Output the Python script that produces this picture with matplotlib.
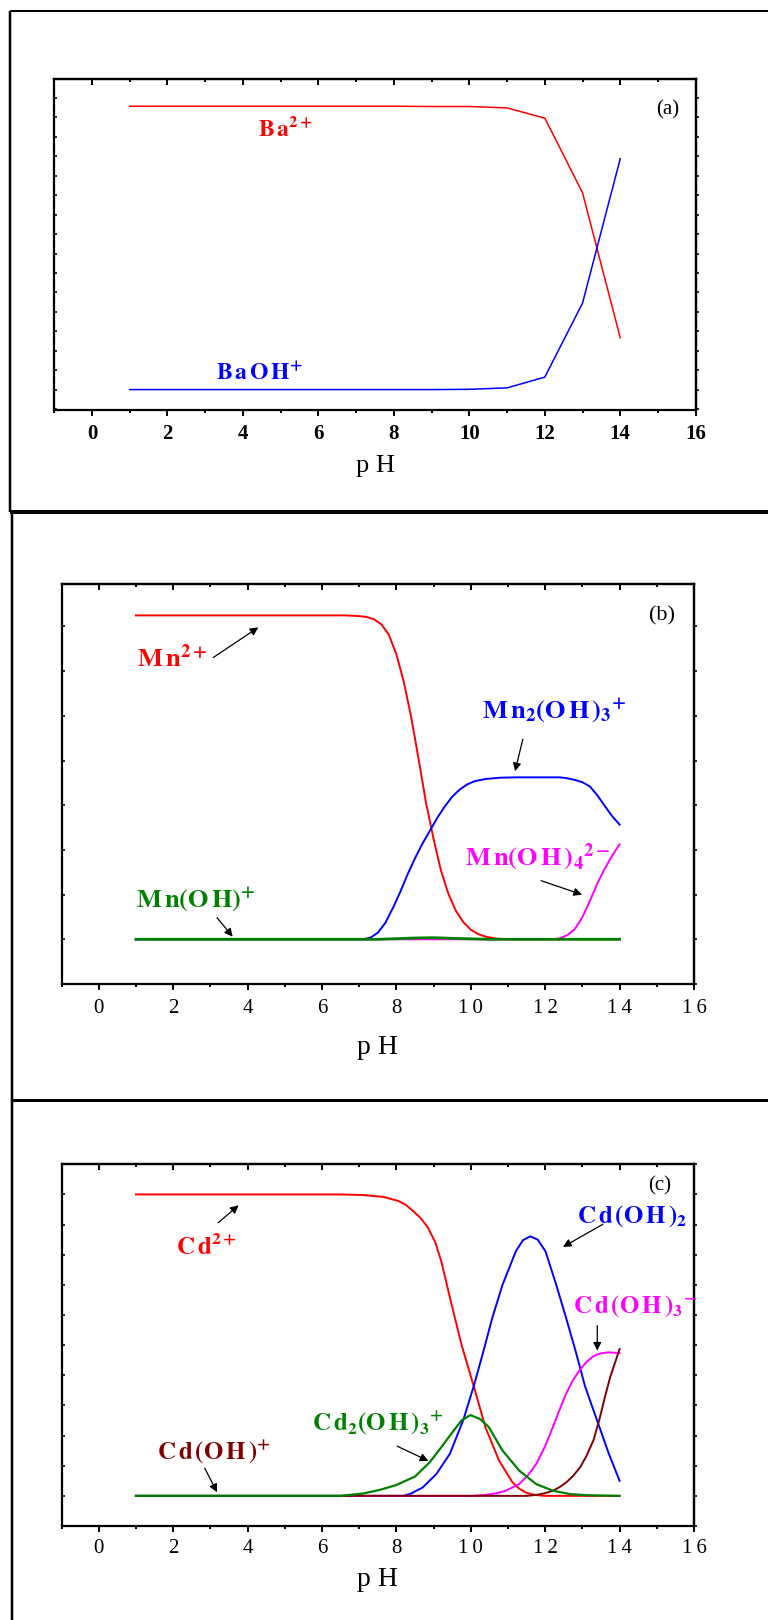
import matplotlib
matplotlib.use("Agg")
import matplotlib.pyplot as plt
from matplotlib.lines import Line2D
from matplotlib.ticker import FixedLocator, MultipleLocator, NullFormatter

plt.rcParams["font.family"] = ["Liberation Serif", "DejaVu Serif"]
plt.rcParams["mathtext.fontset"] = "stix"

# ---- tick labels ----
PH_TICKS = [0, 2, 4, 6, 8, 10, 12, 14, 16]
PH_LABELS_A = ["0", "2", "4", "6", "8", "10", "12", "14", "16"]
PH_LABELS_BC = ["0", "2", "4", "6", "8", "1\u20090", "1\u20092", "1\u20094", "1\u20096"]

# ---- (a) Ba speciation ----
PH_A = [1, 2, 3, 4, 5, 6, 7, 8, 9, 10, 11, 12, 13, 14]
BA2 = [1.0, 1.0, 1.0, 1.0, 1.0, 1.0, 1.0, 1.0, 0.999, 0.999, 0.994, 0.958, 0.695, 0.183]
BAOH = [0.0, 0.0, 0.0, 0.0, 0.0, 0.0, 0.0, 0.0, 0.0, 0.001, 0.006, 0.044, 0.305, 0.815]

# ---- (b) Mn speciation ----
MN2_PH = [1.0, 6.6, 7.0, 7.2, 7.4, 7.6, 7.8, 8.0, 8.2, 8.4, 8.6, 8.8, 9.0, 9.2, 9.4,
          9.6, 9.8, 10.0, 10.2, 10.4, 10.7, 11.0, 14.0]
MN2 = [1.0, 1.0, 0.998, 0.995, 0.988, 0.972, 0.94, 0.88, 0.795, 0.685, 0.555, 0.42,
       0.31, 0.212, 0.14, 0.088, 0.053, 0.03, 0.016, 0.008, 0.002, 0.0, 0.0]
MN2OH3_PH = [1.0, 7.1, 7.3, 7.5, 7.7, 7.9, 8.1, 8.3, 8.5, 8.7, 8.9, 9.1, 9.3, 9.5,
             9.7, 9.9, 10.1, 10.4, 10.8, 11.2, 12.4, 12.6, 12.8, 13.0, 13.2, 13.4,
             13.6, 13.8, 14.0]
MN2OH3 = [0.0, 0.0, 0.005, 0.02, 0.05, 0.095, 0.145, 0.2, 0.25, 0.295, 0.335, 0.375,
          0.41, 0.44, 0.462, 0.478, 0.488, 0.495, 0.499, 0.5, 0.5, 0.497, 0.492,
          0.485, 0.472, 0.445, 0.412, 0.38, 0.354]
MNOH4_PH = [1.0, 12.2, 12.4, 12.6, 12.8, 13.0, 13.2, 13.4, 13.6, 13.8, 14.0]
MNOH4 = [0.0, 0.0, 0.003, 0.013, 0.032, 0.068, 0.118, 0.172, 0.218, 0.258, 0.293]
MNOH_PH = [1.0, 7.5, 8.5, 9.0, 9.5, 10.5, 14.0]
MNOH = [0.0, 0.0, 0.004, 0.005, 0.003, 0.0, 0.0]

# ---- (c) Cd speciation ----
CD2_PH = [1.0, 6.5, 7.1, 7.64, 8.04, 8.25, 8.43, 8.65, 8.85, 9.05, 9.21, 9.49, 9.76,
          10.08, 10.39, 10.76, 11.12, 11.3, 11.48, 11.65, 11.8, 12.0, 14.0]
CD2 = [1.0, 1.0, 0.998, 0.992, 0.979, 0.966, 0.947, 0.922, 0.89, 0.84, 0.777, 0.632,
       0.498, 0.364, 0.229, 0.117, 0.045, 0.024, 0.011, 0.005, 0.002, 0.0, 0.0]
CDOH2_PH = [1.0, 8.2, 8.4, 8.71, 9.08, 9.44, 9.8, 10.08, 10.33, 10.57, 10.85, 11.21,
            11.4, 11.6, 11.8, 12.01, 12.3, 12.57, 12.83, 13.07, 13.39, 13.71, 14.0]
CDOH2 = [0.0, 0.0, 0.008, 0.028, 0.073, 0.14, 0.252, 0.364, 0.475, 0.587, 0.699, 0.811,
         0.848, 0.861, 0.85, 0.811, 0.699, 0.587, 0.475, 0.364, 0.252, 0.14, 0.05]
CDOH3_PH = [1.0, 10.0, 10.39, 10.7, 10.94, 11.15, 11.3, 11.55, 11.76, 12.0, 12.21,
            12.4, 12.57, 12.75, 12.94, 13.1, 13.3, 13.5, 13.7, 14.0]
CDOH3 = [0.0, 0.0, 0.003, 0.009, 0.017, 0.03, 0.039, 0.07, 0.106, 0.165, 0.229, 0.29,
         0.341, 0.385, 0.419, 0.443, 0.464, 0.473, 0.476, 0.474]
CDOH_PH = [1.0, 11.5, 11.76, 12.0, 12.21, 12.4, 12.57, 12.75, 12.94, 13.1, 13.3,
           13.45, 13.6, 13.75, 13.9, 14.0]
CDOH = [0.0, 0.0, 0.003, 0.009, 0.017, 0.03, 0.045, 0.066, 0.095, 0.13, 0.185, 0.25,
        0.325, 0.395, 0.45, 0.487]
CD2OH3_PH = [1.0, 6.5, 7.12, 7.56, 8.0, 8.5, 8.9, 9.2, 9.5, 9.75, 9.99, 10.25, 10.48,
             10.85, 11.3, 11.76, 12.21, 12.66, 13.12, 14.0]
CD2OH3 = [0.0, 0.0, 0.008, 0.02, 0.036, 0.064, 0.112, 0.16, 0.21, 0.25, 0.268, 0.255,
          0.229, 0.151, 0.084, 0.039, 0.017, 0.006, 0.002, 0.0]

RED, BLUE, MAGENTA, GREEN, BROWN = "#ff0000", "#0000ff", "#ff00ff", "#008000", "#800000"

W, H = 768, 1620
fig = plt.figure(figsize=(W / 100, H / 100), dpi=100)


def add_axes_px(left, top, right, bottom):
    return fig.add_axes([left / W, 1 - bottom / H, (right - left) / W, (bottom - top) / H])


def frame_line(x0, y0, x1, y1, lw_px):
    fig.add_artist(Line2D([x0 / W, x1 / W], [1 - y0 / H, 1 - y1 / H],
                          transform=fig.transFigure, color="k", lw=lw_px * 0.72,
                          solid_capstyle="butt"))


def style_axes(ax, ylim, ystep, labels, bold, pad, label_y, label_size):
    ax.set_xlim(-1, 16)
    ax.set_ylim(*ylim)
    for sp in ax.spines.values():
        sp.set_linewidth(1.6)
    ax.xaxis.set_major_locator(FixedLocator(PH_TICKS))
    ax.xaxis.set_minor_locator(MultipleLocator(1))
    ax.set_xticklabels(labels, fontsize=15, fontweight="bold" if bold else "normal")
    ax.tick_params(axis="x", which="both", bottom=True, top=False, direction="out",
                   width=1.4, pad=pad)
    ax.tick_params(axis="x", which="major", length=4.3)
    ax.tick_params(axis="x", which="minor", length=2.2)
    ax.yaxis.set_major_locator(MultipleLocator(ystep))
    ax.tick_params(axis="y", left=True, right=False, direction="in", length=2,
                   width=1.2, labelleft=False)

    top = ax.secondary_xaxis("top")
    top.xaxis.set_major_locator(FixedLocator(PH_TICKS))
    top.xaxis.set_minor_locator(MultipleLocator(1))
    top.xaxis.set_major_formatter(NullFormatter())
    top.tick_params(which="both", direction="in", width=1.4)
    top.tick_params(which="major", length=4.3)
    top.tick_params(which="minor", length=2.2)
    top.spines["top"].set_linewidth(1.6)

    right = ax.secondary_yaxis("right")
    right.yaxis.set_major_locator(MultipleLocator(ystep))
    right.yaxis.set_major_formatter(NullFormatter())
    right.tick_params(direction="out", length=2, width=1.2)
    right.spines["right"].set_linewidth(1.6)

    ax.set_xlabel("p H", fontsize=label_size)
    ax.xaxis.label.set_va("center")
    ax.xaxis.set_label_coords(0.5, label_y)


def arrow(ax, start, end):
    ax.annotate("", xy=end, xytext=start,
                arrowprops=dict(arrowstyle="-|>", color="k", lw=0.9,
                                mutation_scale=12, shrinkA=0, shrinkB=0))


# outer frames around the three pictures
frame_line(9.8, 11, 768, 11, 2)
frame_line(9.8, 11, 9.8, 512, 2.5)
frame_line(9.8, 511.5, 768, 511.5, 4)
frame_line(11.5, 511, 11.5, 1100, 2.5)
frame_line(11.5, 1099.5, 768, 1099.5, 3)
frame_line(11.5, 1099, 11.5, 1620, 2.5)

# ---------------- (a) ----------------
ax_a = add_axes_px(54.3, 79.3, 695.7, 410)
ax_a.plot(PH_A, BA2, color=RED, lw=1.1)
ax_a.plot(PH_A, BAOH, color=BLUE, lw=1.1)
style_axes(ax_a, (-0.072, 1.095), 0.0686, PH_LABELS_A, True, 5.8, -0.169, 19)
ax_a.text(4.40, 0.895, r"$\mathbf{B\,a^{2+}}$", color=RED, fontsize=17)
ax_a.text(3.29, 0.034, r"$\mathbf{B\,a\,O\,H^{+}}$", color=BLUE, fontsize=17)
ax_a.text(15.26, 0.987, "(a)", fontsize=15, ha="center", va="center")

# ---------------- (b) ----------------
ax_b = add_axes_px(61.5, 584.3, 694, 984)
ax_b.plot(MN2_PH, MN2, color=RED, lw=1.4)
ax_b.plot(MN2OH3_PH, MN2OH3, color=BLUE, lw=1.4)
ax_b.plot(MNOH4_PH, MNOH4, color=MAGENTA, lw=1.4)
ax_b.plot(MNOH_PH, MNOH, color=GREEN, lw=2.0)
style_axes(ax_b, (-0.138, 1.096), 0.138, PH_LABELS_BC, False, 6.8, -0.159, 20)
ax_b.text(1.03, 0.842, r"$\mathbf{M\,n^{2+}}$", color=RED, fontsize=19)
ax_b.text(10.30, 0.683, r"$\mathbf{M\,n_2(O\,H\,)_3{}^{+}}$", color=BLUE, fontsize=19)
ax_b.text(9.84, 0.226, r"$\mathbf{M\,n(O\,H\,)_4{}^{2-}}$", color=MAGENTA, fontsize=19)
ax_b.text(1.0, 0.0996, r"$\mathbf{M\,n(O\,H)^{+}}$", color=GREEN, fontsize=19)
ax_b.text(15.14, 0.998, "(b)", fontsize=16, ha="center", va="center")
arrow(ax_b, (3.08, 0.870), (4.29, 0.963))
arrow(ax_b, (11.40, 0.618), (11.19, 0.519))
arrow(ax_b, (11.89, 0.181), (12.99, 0.138))
arrow(ax_b, (3.18, 0.067), (3.60, 0.008))

# ---------------- (c) ----------------
ax_c = add_axes_px(61.5, 1164.3, 694, 1526)
ax_c.plot(CD2_PH, CD2, color=RED, lw=1.4)
ax_c.plot(CDOH2_PH, CDOH2, color=BLUE, lw=1.4)
ax_c.plot(CDOH3_PH, CDOH3, color=MAGENTA, lw=1.4)
ax_c.plot(CDOH_PH, CDOH, color=BROWN, lw=1.4)
ax_c.plot(CD2OH3_PH, CD2OH3, color=GREEN, lw=1.6)
style_axes(ax_c, (-0.1, 1.1), 0.1, PH_LABELS_BC, False, 5.3, -0.148, 20)
ax_c.text(2.08, 0.798, r"$\mathbf{C\,d^{2+}}$", color=RED, fontsize=18)
ax_c.text(12.85, 0.905, r"$\mathbf{C\,d\,(O\,H\,)_2}$", color=BLUE, fontsize=18)
ax_c.text(12.75, 0.609, r"$\mathbf{C\,d\,(O\,H\,)_3{}^{-}}$", color=MAGENTA, fontsize=18)
ax_c.text(5.72, 0.22, r"$\mathbf{C\,d_2(O\,H\,)_3{}^{+}}$", color=GREEN, fontsize=18)
ax_c.text(1.57, 0.124, r"$\mathbf{C\,d\,(O\,H\,)^{+}}$", color=BROWN, fontsize=18)
ax_c.text(15.08, 1.029, "(c)", fontsize=15, ha="center", va="center")
arrow(ax_c, (3.21, 0.906), (3.76, 0.964))
arrow(ax_c, (13.55, 0.901), (12.48, 0.826))
arrow(ax_c, (13.40, 0.565), (13.40, 0.482))
arrow(ax_c, (8.02, 0.165), (8.86, 0.116))
arrow(ax_c, (2.85, 0.092), (3.18, 0.012))

fig.savefig("out.png", dpi=100)
